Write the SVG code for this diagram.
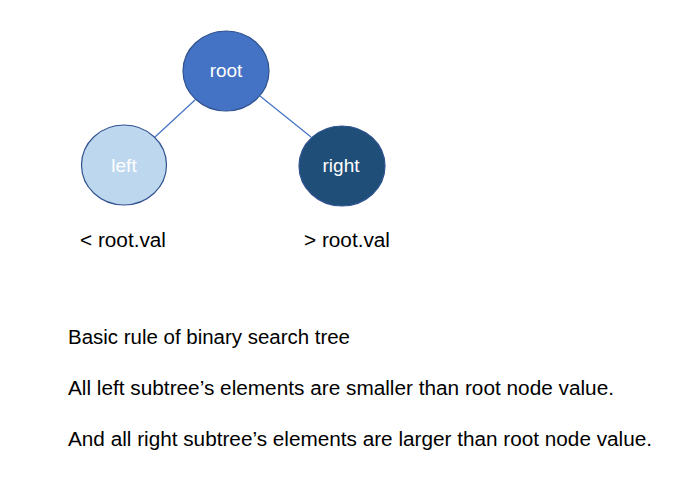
<svg xmlns="http://www.w3.org/2000/svg" width="680" height="488" viewBox="0 0 680 488">
<style>
.edge{stroke:#4472C4;stroke-width:1.2;fill:none}
.node{stroke:#2F528F;stroke-width:1.2}
.nl{font-family:"Liberation Sans",Arial,sans-serif;font-size:19px;fill:#FFFFFF;text-anchor:middle}
.t{font-family:"Liberation Sans",Arial,sans-serif;font-size:19.5px;fill:#000000}
</style>
<rect width="680" height="488" fill="#FFFFFF"/>
<g id="connectors">
<line class="edge" x1="195" y1="100" x2="155" y2="137"/>
<line class="edge" x1="260" y1="96" x2="311" y2="137"/>
</g>
<g id="root">
<ellipse class="node" cx="226" cy="71" rx="43" ry="40" fill="#4472C4"/>
<text class="nl" x="226" y="77" font-size="21.5">root</text>
</g>
<g id="left">
<ellipse class="node" cx="124" cy="165" rx="42.5" ry="40" fill="#BDD7EE"/>
<text class="nl" x="124" y="172">left</text>
</g>
<g id="right">
<ellipse class="node" cx="342" cy="166" rx="43" ry="40" fill="#1F4E79"/>
<text class="nl" x="341" y="172">right</text>
</g>
<g id="labels">
<text class="t" x="80" y="247" textLength="86" lengthAdjust="spacingAndGlyphs">&lt; root.val</text>
<text class="t" x="304" y="247" textLength="86" lengthAdjust="spacingAndGlyphs">&gt; root.val</text>
<text class="t" x="68" y="344" textLength="282" lengthAdjust="spacingAndGlyphs">Basic rule of binary search tree</text>
<text class="t" x="68" y="395" textLength="546" lengthAdjust="spacingAndGlyphs">All left subtree’s elements are smaller than root node value.</text>
<text class="t" x="68" y="446" textLength="584" lengthAdjust="spacingAndGlyphs">And all right subtree’s elements are larger than root node value.</text>
</g>
</svg>
